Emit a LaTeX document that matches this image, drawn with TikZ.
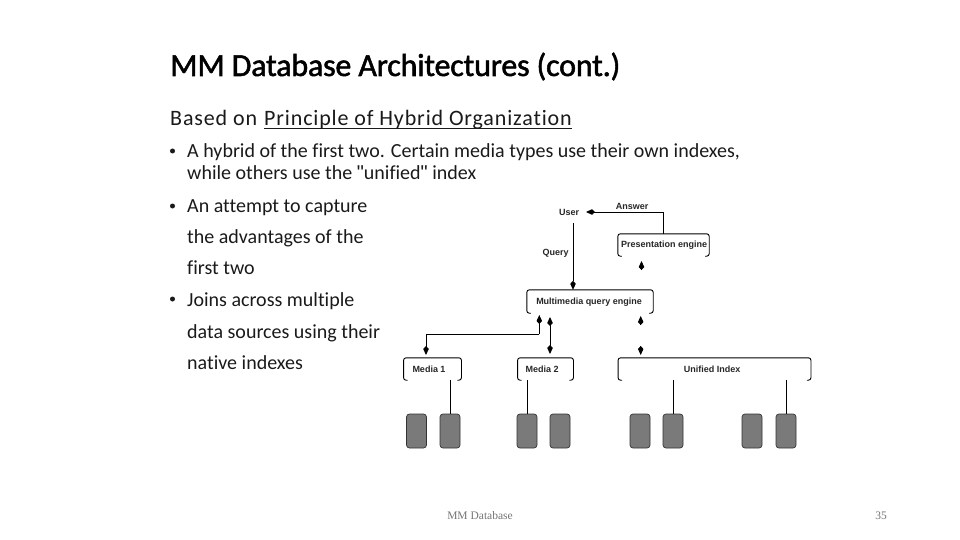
\documentclass[tikz,border=0pt]{standalone}
\usepackage{fontspec}
\setmainfont[Ligatures={NoCommon}]{Carlito}
\newfontfamily\titlefont[FakeBold=1.6,Ligatures={NoCommon},LetterSpace=-0.6]{Carlito}
\newfontfamily\subfont[Ligatures={NoCommon},LetterSpace=3.9]{Carlito}
\newfontfamily\diagfont{Liberation Sans}
\newfontfamily\footfont{Liberation Serif}
\usetikzlibrary{arrows.meta}
\definecolor{diskgrey}{HTML}{7A7A7A}
\definecolor{bodyink}{HTML}{1A1A1A}
\definecolor{footink}{HTML}{747474}
\tikzset{
  x=1pt,y=-1pt,
  titletext/.style={anchor=base west,inner sep=0,font=\titlefont\fontsize{32}{32}\selectfont,text=black},
  subtext/.style={anchor=base west,inner sep=0,font=\subfont\fontsize{22}{22}\selectfont,text=bodyink},
  bullettext/.style={anchor=base west,inner sep=0,font=\fontsize{20}{20}\selectfont,text=bodyink},
  bulletmark/.style={circle,fill=bodyink,inner sep=0,minimum size=5pt},
  foottext/.style={anchor=base,inner sep=0,font=\footfont\fontsize{11.5}{11.5}\selectfont,text=footink},
  label/.style={anchor=center,inner sep=0,font=\diagfont\bfseries\fontsize{9}{9}\selectfont,text=black!85},
  boxarea/.style={rectangle,inner sep=0,minimum width=#1,minimum height=22pt},
  boxline/.style={line width=0.9pt,rounded corners=2.5pt},
  disk/.style={rectangle,rounded corners=3pt,draw=black!80,line width=0.7pt,fill=diskgrey,minimum width=20pt,minimum height=34pt,inner sep=0},
  wire/.style={line width=0.9pt},
  tip/.style={line width=0.9pt,-{Kite[length=9pt,width=5.5pt,inset=3pt]}},
  bothtip/.style={line width=0.9pt,{Kite[length=9pt,width=5.5pt,inset=3pt]}-{Kite[length=9pt,width=5.5pt,inset=3pt]}},
}
\newcommand{\boxoutline}[1]{%
  \draw[boxline] ([xshift=4pt]#1.south west) -- (#1.south west) -- (#1.north west) -- (#1.north east) -- (#1.south east) -- ([xshift=-4pt]#1.south east);
}
\newcommand{\straightquote}{{\diagfont\symbol{34}}}
\begin{document}
\begin{tikzpicture}
\useasboundingbox (0,0) rectangle (960,540);
\node[titletext] (title) at (170,76) {MM Database Architectures (cont.)};
\node[subtext] (sub) at (170,126) {Based on};
\node[subtext] (sub2) at (264,126) {Principle of Hybrid Organization};
\draw[line width=1.6pt,draw=bodyink] ([yshift=-2.5pt]sub2.base west) -- ([yshift=-2.5pt]sub2.base east);
\node[bulletmark] (b1) at (172.5,151) {};
\node[bullettext] (t1) at (187,158) {A hybrid of the first two. Certain media types use their own indexes,};
\node[bullettext] (t1b) at (187,179) {while others use the \straightquote unified\straightquote{} index};
\node[bulletmark] (b2) at (172.5,206) {};
\node[bullettext] (t2) at (187,212) {An attempt to capture};
\node[bullettext] (t2b) at (187,243) {the advantages of the};
\node[bullettext] (t2c) at (187,274) {first two};
\node[bulletmark] (b3) at (172.5,299) {};
\node[bullettext] (t3) at (187,306) {Joins across multiple};
\node[bullettext] (t3b) at (187,338) {data sources using their};
\node[bullettext] (t3c) at (187,369) {native indexes};

\node[label] (user) at (569,212) {User};
\node[label] (answer) at (632,206) {Answer};
\node[label] (query) at (555.5,253) {Query};
\node[boxarea=91pt] (pres) at (663.5,245) {};
\node[label] (prestext) at (664,245) {Presentation engine};
\node[boxarea=126pt,minimum height=23pt] (mqe) at (590,301.5) {};
\node[label] (mqetext) at (589,302) {Multimedia query engine};
\node[boxarea=57.5pt] (m1) at (432.5,369) {};
\node[label] (m1text) at (429,369) {Media 1};
\node[boxarea=55.5pt] (m2) at (545.5,369) {};
\node[label] (m2text) at (542,369) {Media 2};
\node[boxarea=192.5pt] (ui) at (714.5,369) {};
\node[label] (uitext) at (712,369) {Unified Index};
\foreach \b in {pres,mqe,m1,m2,ui} {\boxoutline{\b}}

\node[disk] (d1) at (416.5,431) {};
\node[disk] (d2) at (450,431) {};
\node[disk] (d3) at (527,431) {};
\node[disk] (d4) at (560,431) {};
\node[disk] (d5) at (640,431) {};
\node[disk] (d6) at (673,431) {};
\node[disk] (d7) at (752,431) {};
\node[disk] (d8) at (786,431) {};

\draw[wire] (d2.north) -- (d2.north |- m1.south);
\draw[wire] (d3.north) -- (d3.north |- m2.south);
\draw[wire] (d6.north) -- (d6.north |- ui.south);
\draw[wire] (d8.north) -- (d8.north |- ui.south);

\coordinate (qtop) at (573,223);
\draw[tip] (qtop) -- (qtop |- mqe.north);
\coordinate (aend) at (586,212);
\draw[tip] (pres.north) |- (aend);
\coordinate (pa) at (641.5,270);
\coordinate (pb) at (641.5,261);
\draw[tip] (pa) -- (pb);
\coordinate (ma) at (539.3,334);
\coordinate (mb) at (539.3,315);
\coordinate (mc) at (426,355);
\draw[tip] (ma) -- (mb);
\draw[tip] (ma) -| (mc);
\coordinate (na) at (550,317);
\coordinate (nb) at (550,354);
\draw[bothtip] (na) -- (nb);
\coordinate (ua) at (640.7,325);
\coordinate (ub) at (640.7,316);
\draw[tip] (ua) -- (ub);
\coordinate (uc) at (640.7,346);
\coordinate (ud) at (640.7,355);
\draw[tip] (uc) -- (ud);

\node[foottext] (f1) at (480,519) {MM Database};
\node[foottext] (f2) at (881,519) {35};
\end{tikzpicture}
\end{document}
